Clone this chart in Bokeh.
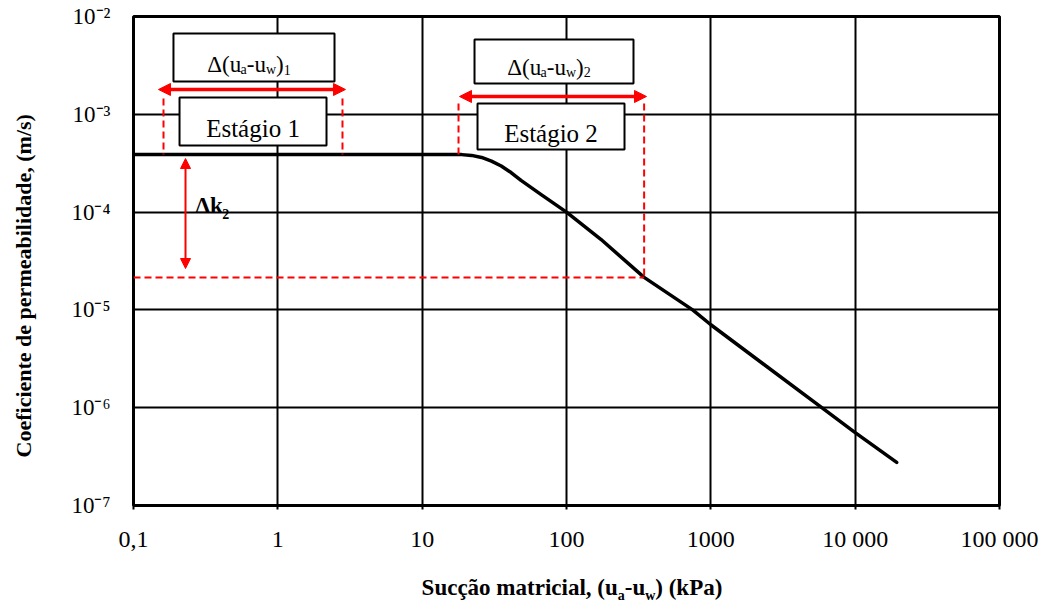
import math
from bokeh.plotting import figure
from bokeh.layouts import column
from bokeh.models import (FixedTicker, CustomJSTickFormatter, BoxAnnotation, Label,
                          Arrow, NormalHead, Range1d, Div)
from bokeh.embed import file_html
from bokeh.resources import INLINE

# ---------------- data ----------------
suction_kpa = [0.1, 1, 10, 18.8, 22.0, 25.8, 30.2, 35.3, 41.3, 48.4, 66.4, 100, 173, 345, 748, 1000, 5870, 9840, 19400]
permeability = [3.87e-4, 3.87e-4, 3.87e-4, 3.87e-4, 3.80e-4, 3.62e-4, 3.32e-4, 2.96e-4, 2.54e-4, 2.11e-4,
                1.52e-4, 1.0e-4, 5.27e-5, 2.15e-5, 1.0e-5, 7.05e-6, 1.0e-6, 5.66e-7, 2.76e-7]

x_ticks = [0.1, 1, 10, 100, 1000, 10000, 100000]
x_tick_labels = ["0,1", "1", "10", "100", "1000", "10 000", "100 000"]
y_ticks = [1e-7, 1e-6, 1e-5, 1e-4, 1e-3, 1e-2]
y_tick_labels = ["10\u207b\u2077", "10\u207b\u2076", "10\u207b\u2075", "10\u207b\u2074", "10\u207b\u00b3", "10\u207b\u00b2"]

x_title_html = ("Suc\u00e7\u00e3o matricial, (u<sub>a</sub>-u<sub>w</sub>) (kPa)")
y_title = "Coeficiente de permeabilidade, (m/s)"

# annotation boxes: [delta1, stage1, delta2, stage2]
box_left = [0.1892, 0.2084, 23.05, 24.18]
box_right = [2.470, 2.174, 291.2, 252.3]
box_top = [6.70e-3, 1.485e-3, 5.82e-3, 1.290e-3]
box_bottom = [2.165e-3, 4.80e-4, 2.065e-3, 4.365e-4]

# red double arrows: [range 1, range 2, delta k2]
arrow_x0 = [0.149, 18.15, 0.2293]
arrow_x1 = [2.943, 358.3, 0.2293]
arrow_y0 = [1.793e-3, 1.521e-3, 3.53e-4]
arrow_y1 = [1.793e-3, 1.521e-3, 2.65e-5]

# red dashed guide lines
dash_x0 = [0.1614, 2.805, 17.86, 345, 0.1]
dash_x1 = [0.1614, 2.805, 17.86, 345, 345]
dash_y0 = [1.451e-3, 1.451e-3, 1.290e-3, 1.290e-3, 2.15e-5]
dash_y1 = [3.87e-4, 3.87e-4, 3.87e-4, 2.15e-5, 2.15e-5]

RED = "#ff0000"
FONT = "Liberation Serif"

# Times / Liberation Serif advance widths (per 1000 em)
REG = {' ': 250, '(': 333, ')': 333, '-': 333, '1': 500, '2': 500, '\u0394': 612,
       'u': 500, 'a': 444, 'w': 722}
BOLD = {' ': 250, '(': 333, ')': 333, '-': 333, ',': 250, '2': 500, '\u0394': 612, 'k': 556,
        'u': 556, 'a': 500, 'w': 722}


def text_width(s, size, bold):
    table = BOLD if bold else REG
    return sum(table.get(ch, 500) for ch in s) * size / 1000.0


p = figure(x_axis_type="log", y_axis_type="log",
           x_range=Range1d(0.1, 1e5), y_range=Range1d(1e-7, 1e-2),
           frame_width=866, frame_height=489,
           min_border_left=133, min_border_right=47, min_border_top=16, min_border_bottom=60,
           output_backend="svg", toolbar_location=None)
p.background_fill_color = "white"
p.border_fill_color = "white"
p.outline_line_color = "black"
p.outline_line_width = 3
p.outline_line_alpha = 1

fmt_code = """
for (let i = 0; i < vals.length; i++) {
  if (Math.abs(Math.log10(tick) - Math.log10(vals[i])) < 1e-6) return labs[i];
}
return "";
"""
p.xaxis.ticker = FixedTicker(ticks=x_ticks, minor_ticks=[])
p.yaxis.ticker = FixedTicker(ticks=y_ticks, minor_ticks=[])
p.xaxis.formatter = CustomJSTickFormatter(args=dict(vals=x_ticks, labs=x_tick_labels), code=fmt_code)
p.yaxis.formatter = CustomJSTickFormatter(args=dict(vals=y_ticks, labs=y_tick_labels), code=fmt_code)

for ax in (p.xaxis, p.yaxis):
    ax.axis_line_color = None
    ax.minor_tick_line_color = None
    ax.major_label_text_font = FONT
    ax.major_label_text_color = "black"
    ax.major_label_text_font_style = "normal"
p.xaxis.major_label_text_font_size = "24px"
p.yaxis.major_label_text_font_size = "23px"
p.xaxis.major_tick_line_color = "black"
p.xaxis.major_tick_line_width = 2
p.xaxis.major_tick_out = 4
p.xaxis.major_tick_in = 0
p.xaxis.major_label_standoff = 16
p.yaxis.major_tick_line_color = None
p.yaxis.major_tick_out = 0
p.yaxis.major_tick_in = 0
p.yaxis.major_label_standoff = 23

# y-axis title (trailing no-break spaces shift its centre down, as in the reference)
p.yaxis.axis_label = y_title + "\u00a0" * 9
p.yaxis.axis_label_text_font = FONT
p.yaxis.axis_label_text_font_size = "22px"
p.yaxis.axis_label_text_font_style = "bold"
p.yaxis.axis_label_text_color = "black"
p.yaxis.axis_label_standoff = 32

for g in (p.xgrid, p.ygrid):
    g.grid_line_color = "black"
    g.grid_line_width = 2
    g.grid_line_alpha = 1

# curve
p.line(suction_kpa, permeability, line_color="black", line_width=3.5, line_join="round", line_cap="round")

# dashed guides
p.segment(dash_x0, dash_y0, dash_x1, dash_y1, line_color=RED, line_width=2, line_dash="7 4")

# boxes
for l, r, t, b in zip(box_left, box_right, box_top, box_bottom):
    p.add_layout(BoxAnnotation(left=l, right=r, top=t, bottom=b, fill_color="white", fill_alpha=1,
                               line_color="black", line_width=2, line_alpha=1))

# arrows
for i, (x0, x1, y0, y1) in enumerate(zip(arrow_x0, arrow_x1, arrow_y0, arrow_y1)):
    lw = 3.5 if i < 2 else 2
    hs = 12 if i < 2 else 10
    p.add_layout(Arrow(x_start=x0, y_start=y0, x_end=x1, y_end=y1, line_color=RED, line_width=lw,
                       start=NormalHead(size=hs, fill_color=RED, line_color=RED, line_width=1),
                       end=NormalHead(size=hs, fill_color=RED, line_color=RED, line_width=1)))


def composite(pieces, x, y_base, y_sub, size, sub_size, bold, anchor="center", shift=0.0):
    widths = [text_width(t, sub_size if s else size, bold) for t, s in pieces]
    off = (-sum(widths) / 2.0 if anchor == "center" else 0.0) + shift
    for (t, s), w in zip(pieces, widths):
        p.add_layout(Label(x=x, y=y_sub if s else y_base, x_offset=off, text=t,
                           text_align="left", text_baseline="alphabetic", text_font=FONT,
                           text_font_size=f"{sub_size if s else size}px",
                           text_font_style="bold" if bold else "normal", text_color="black"))
        off += w


composite([("\u0394(u", False), ("a", True), ("-u", False), ("w", True), (")", False), ("1", True)],
          0.6838, 3.23e-3, 2.87e-3, 23, 14, False, shift=-5)
composite([("\u0394(u", False), ("a", True), ("-u", False), ("w", True), (")", False), ("2", True)],
          81.9, 3.01e-3, 2.676e-3, 23, 14, False, shift=-5)

for tx, ty, txt in [(0.673, 7.16e-4, "Est\u00e1gio 1"), (78.1, 6.36e-4, "Est\u00e1gio 2")]:
    p.add_layout(Label(x=tx, y=ty, text=txt, text_align="center", text_baseline="alphabetic",
                       text_font=FONT, text_font_size="25px", text_color="black"))

composite([("\u0394k", False), ("2", True)], 0.2689, 1.168e-4, 9.67e-5, 23, 14, True, anchor="left")

# x-axis title with subscripts, as an HTML block below the plot
x_title = Div(
    text=('<div style="font-family:\'Liberation Serif\',serif;font-size:23px;font-weight:bold;'
          'color:black;line-height:23px;text-align:center;width:866px;margin-left:139px;'
          'padding-top:11px;white-space:nowrap;">'
          + x_title_html.replace("<sub>", '<sub style="font-size:14px;vertical-align:-5px;line-height:0;">')
          + '</div>'),
    width=1046, height=38, margin=0)

layout = column(p, x_title, spacing=0)
open("out.html", "w").write(file_html(layout, INLINE))
